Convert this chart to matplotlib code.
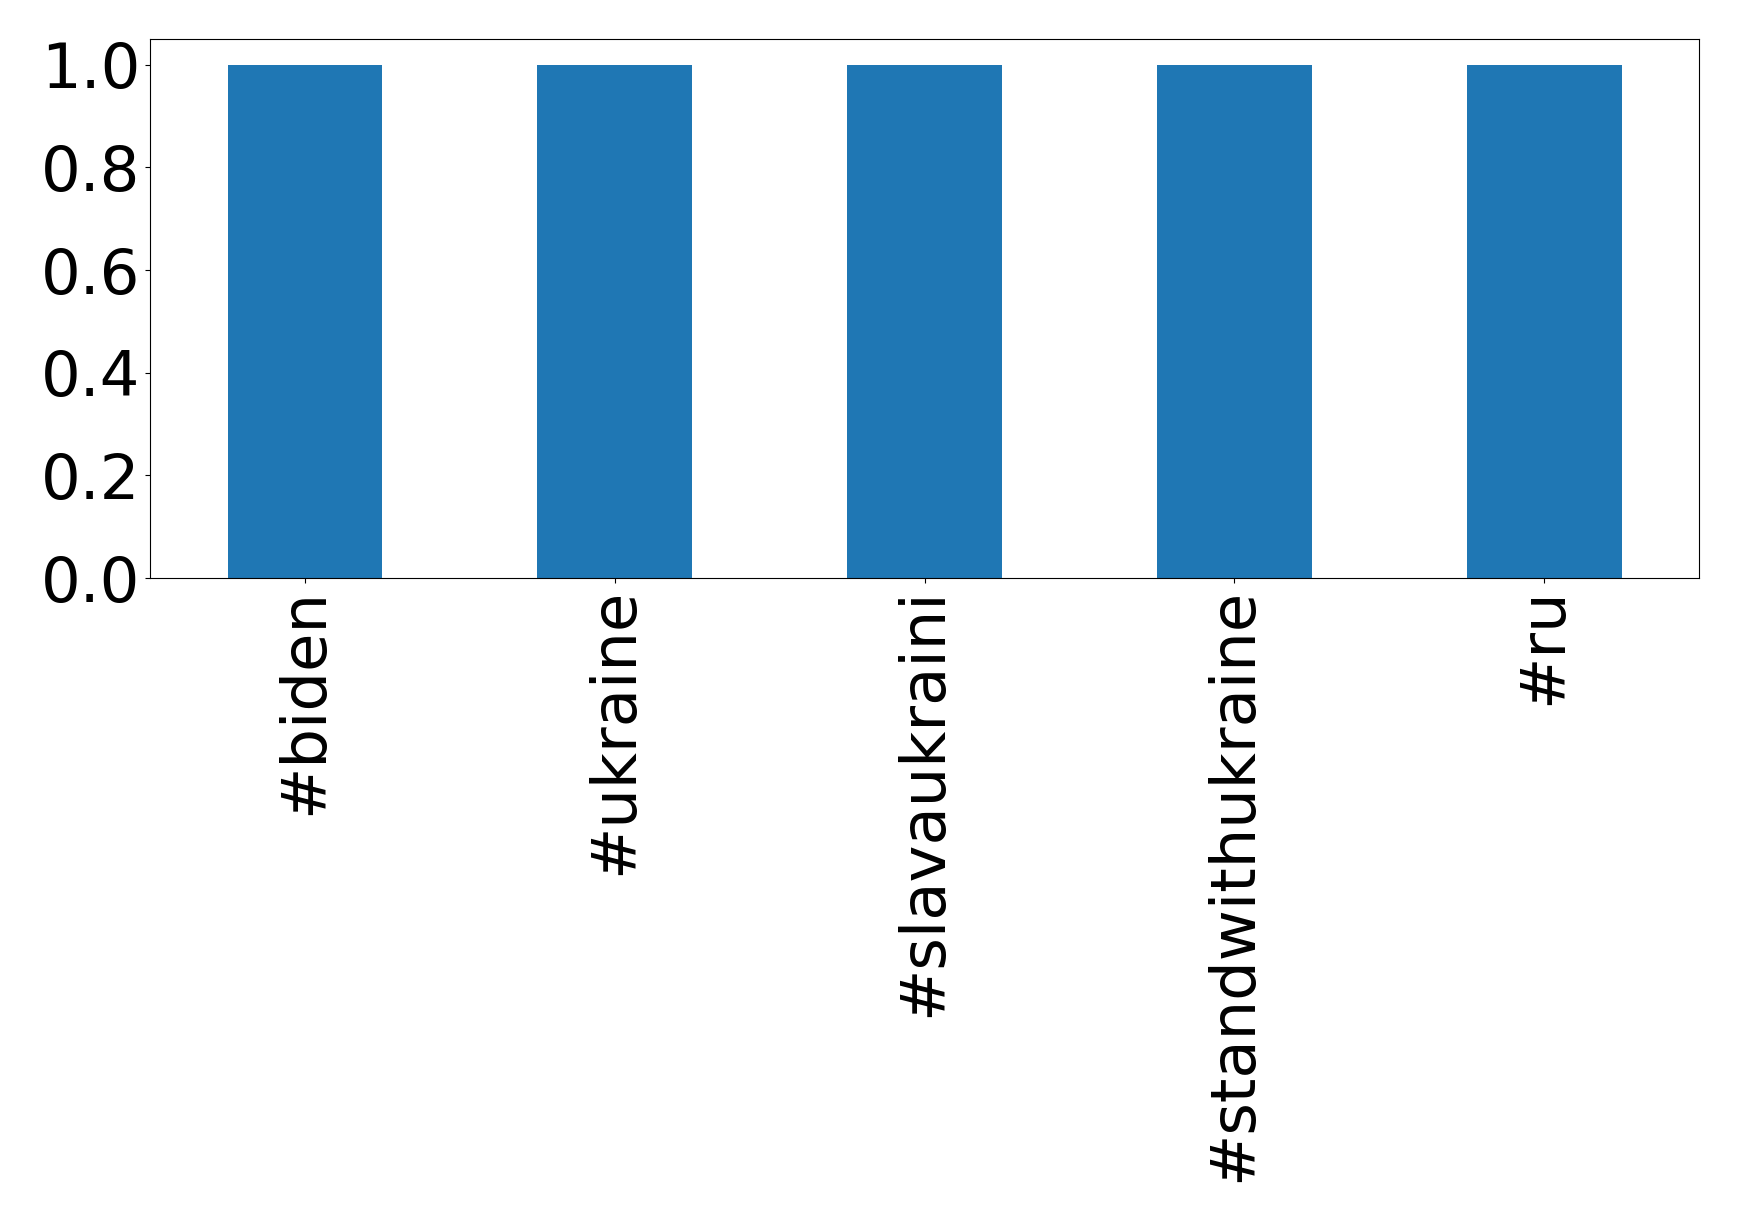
import matplotlib
matplotlib.use('Agg')
import matplotlib.pyplot as plt

hashtags = ['#biden', '#ukraine', '#slavaukraini', '#standwithukraine', '#ru']
counts = [1, 1, 1, 1, 1]


def main():
    fig = plt.figure(figsize=(17.39, 12.22), dpi=100)
    ax = fig.add_axes([0.0863, 0.527, 0.977 - 0.0863, 0.968 - 0.527])

    x = range(len(hashtags))
    ax.bar(x, counts, width=0.5, color='#1f77b4')
    ax.set_xlim(-0.5, len(hashtags) - 0.5)
    ax.set_ylim(0, 1.05)
    ax.set_yticks([0.0, 0.2, 0.4, 0.6, 0.8, 1.0])
    ax.set_xticks(list(x))
    ax.set_xticklabels(hashtags, rotation=90)
    ax.tick_params(axis='both', labelsize=45)

    plt.savefig('out.png', dpi=100)


if __name__ == '__main__':
    main()
